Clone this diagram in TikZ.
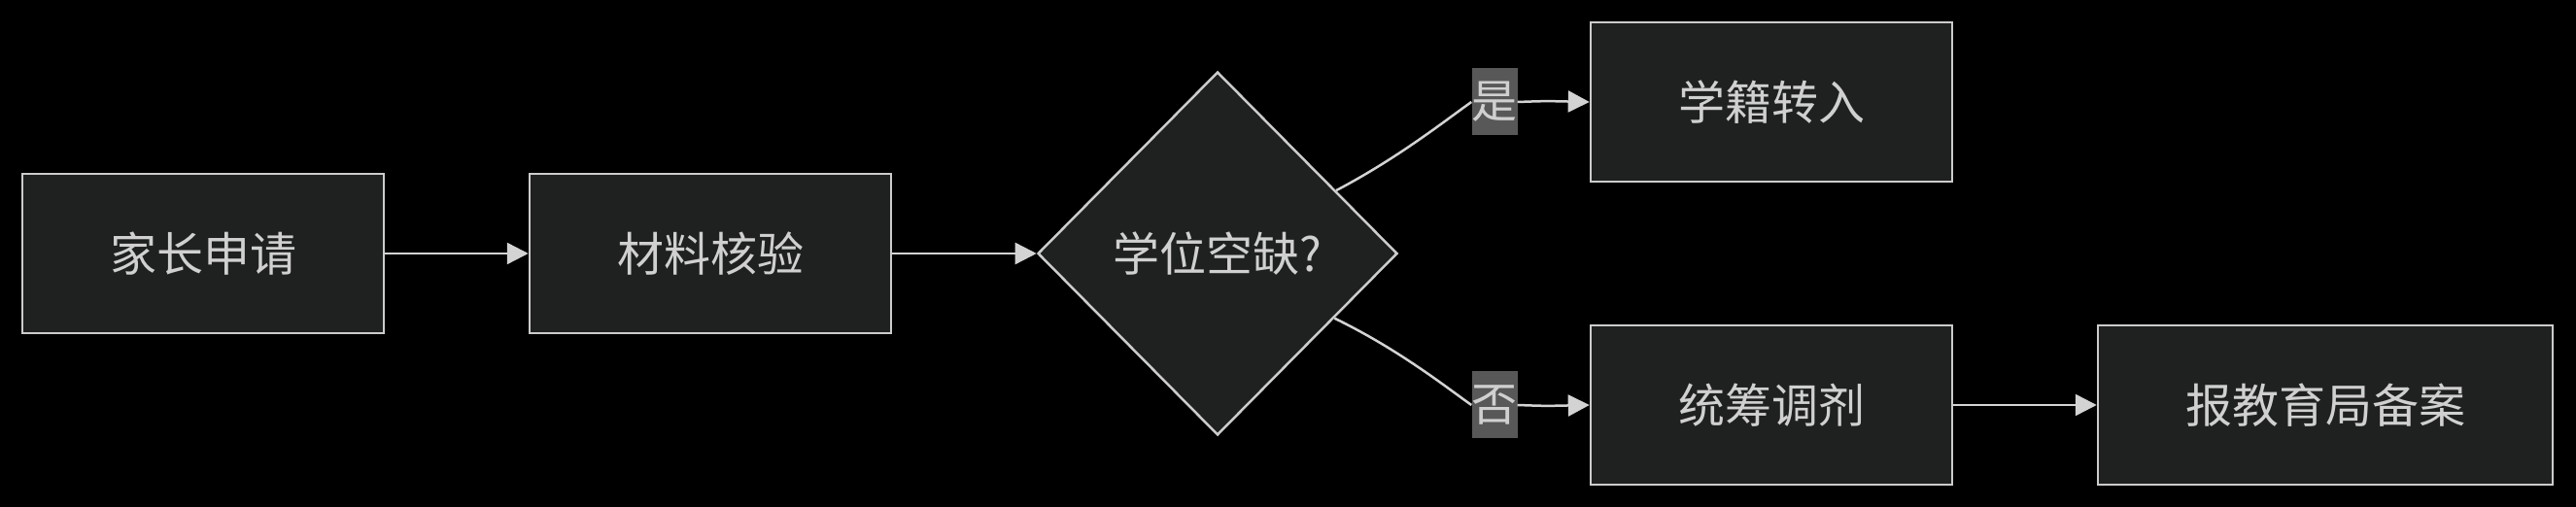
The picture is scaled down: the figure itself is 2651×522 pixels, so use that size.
\documentclass[tikz,border=0pt]{standalone}
\usepackage{fontspec}
\setmainfont{Noto Sans CJK SC}
\usetikzlibrary{shapes.geometric,arrows.meta}
\definecolor{boxfill}{HTML}{1F2020}
\definecolor{boxline}{HTML}{CCCCCC}
\definecolor{edgeline}{HTML}{D3D3D3}
\definecolor{lblfill}{HTML}{585858}
\definecolor{txt}{HTML}{D0D0D0}

\begin{document}
\begin{tikzpicture}
[
	x=1pt,y=1pt,
	stepbox/.style={rectangle,draw=boxline,fill=boxfill,line width=2.5pt,minimum width=372pt,minimum height=164pt,inner sep=0pt,text=txt,font=\fontsize{48}{58}\selectfont},
	choice/.style={diamond,draw=boxline,fill=boxfill,line width=2.5pt,minimum width=370pt,minimum height=374pt,inner sep=0pt,text=txt,font=\fontsize{48}{58}\selectfont},
	lbl/.style={rectangle,fill=lblfill,minimum width=47pt,minimum height=69pt,inner sep=0pt,text=txt,font=\fontsize{47}{56}\selectfont},
	edge/.style={draw=edgeline,line width=2.5pt,-{Triangle[length=22pt,width=22pt]}}
]

	% background
	\fill[black] (0,0) rectangle (2651,522);
	\useasboundingbox (0,0) rectangle (2651,522);

	% nodes
	\node[stepbox] at (209,261) (apply) {家长申请};
	\node[stepbox] at (731,261) (check) {材料核验};
	\node[choice] at (1253,261) (vacant) {学位空缺?};
	\node[stepbox] at (1823,417) (enrol) {学籍转入};
	\node[stepbox] at (1823,105) (assign) {统筹调剂};
	\node[stepbox,minimum width=468pt] at (2393,105) (report) {报教育局备案};

	% edge labels
	\node[lbl] at (1538,417) (yes) {是};
	\node[lbl] at (1538,105) (no) {否};

	% edges
	\draw[edge] (apply) -- (check);
	\draw[edge] (check) -- (vacant);
	\draw[edge] (vacant.28) .. controls (1440,360) and (1490,400) .. (yes.west)
		(yes.east) .. controls (1590,418) .. (enrol.west);
	\draw[edge] (vacant.-29) .. controls (1440,162) and (1490,122) .. (no.west)
		(no.east) .. controls (1590,104) .. (assign.west);
	\draw[edge] (assign) -- (report);

\end{tikzpicture}
\end{document}
